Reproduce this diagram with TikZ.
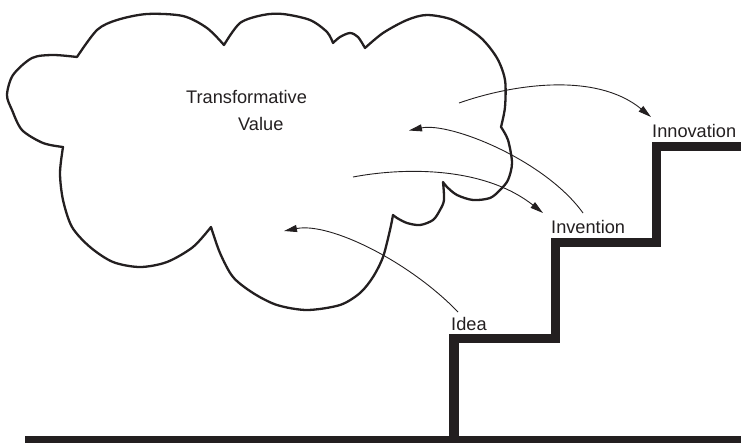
\documentclass[tikz,border=0pt]{standalone}
\usepackage{fontspec}
\setmainfont{Liberation Sans}
\usetikzlibrary{arrows.meta}
\definecolor{ink}{RGB}{35,31,32}
\begin{document}
\begin{tikzpicture}[x=1pt,y=-1pt,
  label/.style={anchor=base west,inner sep=0pt,text=ink,font=\fontsize{18.2}{27}\selectfont},
  cloudline/.style={draw=ink,line width=2.3pt,line join=round},
  stair/.style={draw=ink,line width=9.5pt,line join=miter},
  link/.style={draw=ink,line width=0.9pt,-{Triangle[length=13pt,width=7pt]}}]
\useasboundingbox (0,0) rectangle (741,442);

% cloud outline, one smooth arc per lobe, joined at the cusps
\draw[cloudline]
  plot[smooth] coordinates {(63,147) (43,143) (22,130) (12,110) (7,95) (13,75) (32,58) (53,55) (77,57)}
  -- plot[smooth] coordinates {(77,57) (97,30) (117,20) (147,14) (183,16) (207,28) (224,45)}
  -- plot[smooth] coordinates {(224,45) (240,23) (263,15) (283,14) (310,20) (327,32) (333,43)}
  -- plot[smooth] coordinates {(333,43) (340,37) (350,33) (358,37) (365,48)}
  -- plot[smooth] coordinates {(365,48) (383,33) (407,20) (427,15) (453,20) (480,37) (497,58) (505,80) (505,107) (501,127)}
  -- plot[smooth] coordinates {(501,127) (508,140) (512,163) (508,180) (500,190) (490,198) (473,200) (457,195) (447,187) (443,182)}
  -- plot[smooth] coordinates {(443,182) (444,200) (440,210) (433,220) (420,225) (407,223) (397,218) (393,215)}
  -- plot[smooth] coordinates {(393,215) (390,230) (383,257) (373,277) (360,293) (340,305) (307,310) (277,305) (253,293) (233,277) (220,253) (211,227)}
  -- plot[smooth] coordinates {(211,227) (193,247) (167,262) (140,267) (113,262) (90,247) (72,227) (63,200) (60,173) (63,147)}
  -- cycle;

% title inside the cloud
\node[label,align=left] (value) at (186,130) {Transformative\\\hspace*{52pt}Value};

% staircase and ground line
\draw[stair] (25,441) -- (741,441);
\draw[stair] (454,441) -- (454,338.5) -- (555.5,338.5) -- (555.5,242.5) -- (656.5,242.5) -- (656.5,146.5) -- (741,146.5);

% step labels
\node[label] (idea) at (451,330) {Idea};
\node[label] (invention) at (551,233) {Invention};
\node[label] (innovation) at (652,137) {Innovation};

% points inside the cloud
\coordinate (c1) at (459,103);
\coordinate (c2) at (409,130.5);
\coordinate (c3) at (353,177);
\coordinate (c4) at (284,231);
\coordinate (t1) at (651,117);
\coordinate (t3) at (543,213);
\coordinate (s2) at (583,213);
\coordinate (s4) at (458,312);

% flows between the cloud and the steps
\draw[link] (c1) .. controls (510,85) and (595,71) .. (t1);
\draw[link] (s2) .. controls (545,160) and (450,122) .. (c2);
\draw[link] (c3) .. controls (400,168) and (482,165) .. (t3);
\draw[link] (s4) .. controls (410,262) and (330,222) .. (c4);
\end{tikzpicture}
\end{document}
